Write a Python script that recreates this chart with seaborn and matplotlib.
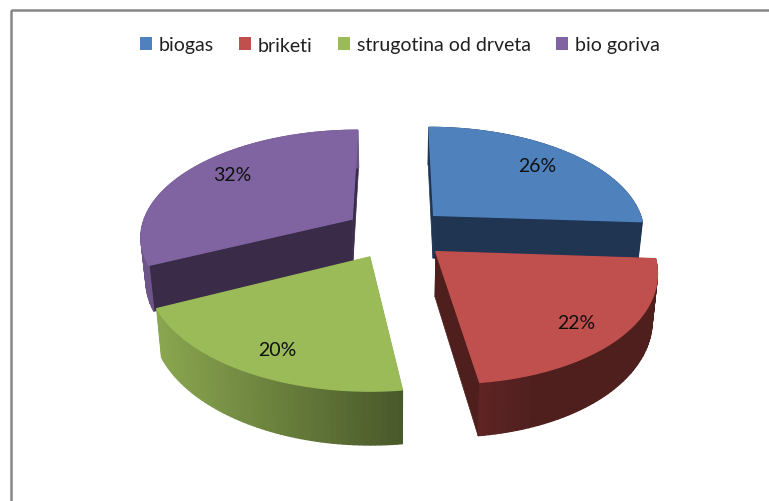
import numpy as np
import matplotlib
matplotlib.use("Agg")
import matplotlib.pyplot as plt
from matplotlib.patches import Patch, Polygon, Rectangle
import seaborn as sns

# ==========================================
# Data
# ==========================================

categories = ["biogas", "briketi", "strugotina od drveta", "bio goriva"]
shares = [26, 22, 20, 32]
share_labels = ["26%", "22%", "20%", "32%"]

top_colors = ["#4F81BD", "#C0504D", "#9BBB59", "#8064A2"]
wall_colors = ["#1F3552", "#4F1F1E", "#5A6E30", "#3A2C48"]

# ==========================================
# Projection of the tilted pie (pixel space)
# ==========================================

CX, CY = 396, 234
RX, RY = 212, 106
PERSP = 0.15
DEPTH = 44
EXPLODE = 0.25
BOTTOM_X = 0.98
FRONT_SHEAR = 3.5


def project(x, y, bottom=False):
    w = 1 - PERSP * y
    sx = x / w * RX + FRONT_SHEAR * np.maximum(y, 0) ** 2
    sy = CY + y / w * RY
    if bottom:
        return CX + sx * BOTTOM_X, sy + DEPTH / w
    return CX + sx, sy


def shade(hex_color, f):
    return tuple(np.clip(np.array(matplotlib.colors.to_rgb(hex_color)) * f, 0, 1))


def outer_color(i, x):
    # outer wall darkens from left to right like the original gradient
    if i == 2:
        return shade(top_colors[i], 0.90 - 0.42 * (x - 153) / 247)
    if i == 1:
        return shade(wall_colors[i], 1.2 - 0.2 * min((x - 478) / 60, 1))
    if i == 3:
        return shade(top_colors[i], 0.85)
    return wall_colors[i]


# ==========================================
# Figure
# ==========================================

sns.set_theme(style="white")
plt.rcParams["font.family"] = ["Lato", "DejaVu Sans"]

fig = plt.figure(figsize=(7.69, 5.02), dpi=100)
ax = fig.add_axes([0, 0, 1, 1])
ax.set_xlim(0, 769)
ax.set_ylim(502, 0)
ax.axis("off")

ax.add_patch(Rectangle((10.5, 10.5), 800, 520, fill=False, ec="#868686", lw=1.8))

fractions = np.array(shares) / sum(shares)
edges = np.concatenate([[0], np.cumsum(fractions)]) * 2 * np.pi

wedges = []
for i in range(len(shares)):
    t0, t1 = edges[i], edges[i + 1]
    mid = (t0 + t1) / 2
    wedges.append((i, t0, t1, EXPLODE * np.sin(mid), -EXPLODE * np.cos(mid)))

# back slices first
wedges.sort(key=lambda s: s[4])

for rank, (i, t0, t1, ox, oy) in enumerate(wedges):
    z = 2 + rank
    theta = np.linspace(t0, t1, 60)
    xs = ox + np.sin(theta)
    ys = oy - np.cos(theta)
    tx, ty = project(xs, ys)
    bx, by = project(xs, ys, bottom=True)
    ax0, ay0 = project(ox, oy)
    bx0, by0 = project(ox, oy, bottom=True)

    # radial walls
    for k in (0, -1):
        ax.add_patch(Polygon([(ax0, ay0), (tx[k], ty[k]), (bx[k], by[k]), (bx0, by0)],
                             fc=wall_colors[i], ec=wall_colors[i], lw=0.5, zorder=z))

    # outer wall
    for k in np.argsort(ys[:-1]):
        color = outer_color(i, tx[k])
        ax.add_patch(Polygon([(tx[k], ty[k]), (tx[k + 1], ty[k + 1]),
                              (bx[k + 1], by[k + 1]), (bx[k], by[k])],
                             fc=color, ec=color, lw=1.0, zorder=z))

    # top face
    ax.add_patch(Polygon(np.column_stack([np.r_[ax0, tx], np.r_[ay0, ty]]),
                         fc=top_colors[i], ec=top_colors[i], lw=1.0, zorder=z))

# ==========================================
# Labels and legend
# ==========================================

label_xy = [(537, 166.5), (576, 323.5), (277, 350.5), (232, 175.5)]
for lab, (lx, ly) in zip(share_labels, label_xy):
    ax.text(lx, ly, lab, ha="center", va="center", fontsize=14, color="#101010", zorder=10)

handles = [Patch(fc=c, ec="none") for c in top_colors]
ax.legend(handles, categories, ncol=4, frameon=False, fontsize=14,
          loc="center", bbox_to_anchor=(400 / 769, 1 - 46 / 502),
          handlelength=0.62, handleheight=0.62, handletextpad=0.35,
          columnspacing=1.3, labelcolor="#202020")

plt.savefig("out.png", dpi=100)
plt.close()
